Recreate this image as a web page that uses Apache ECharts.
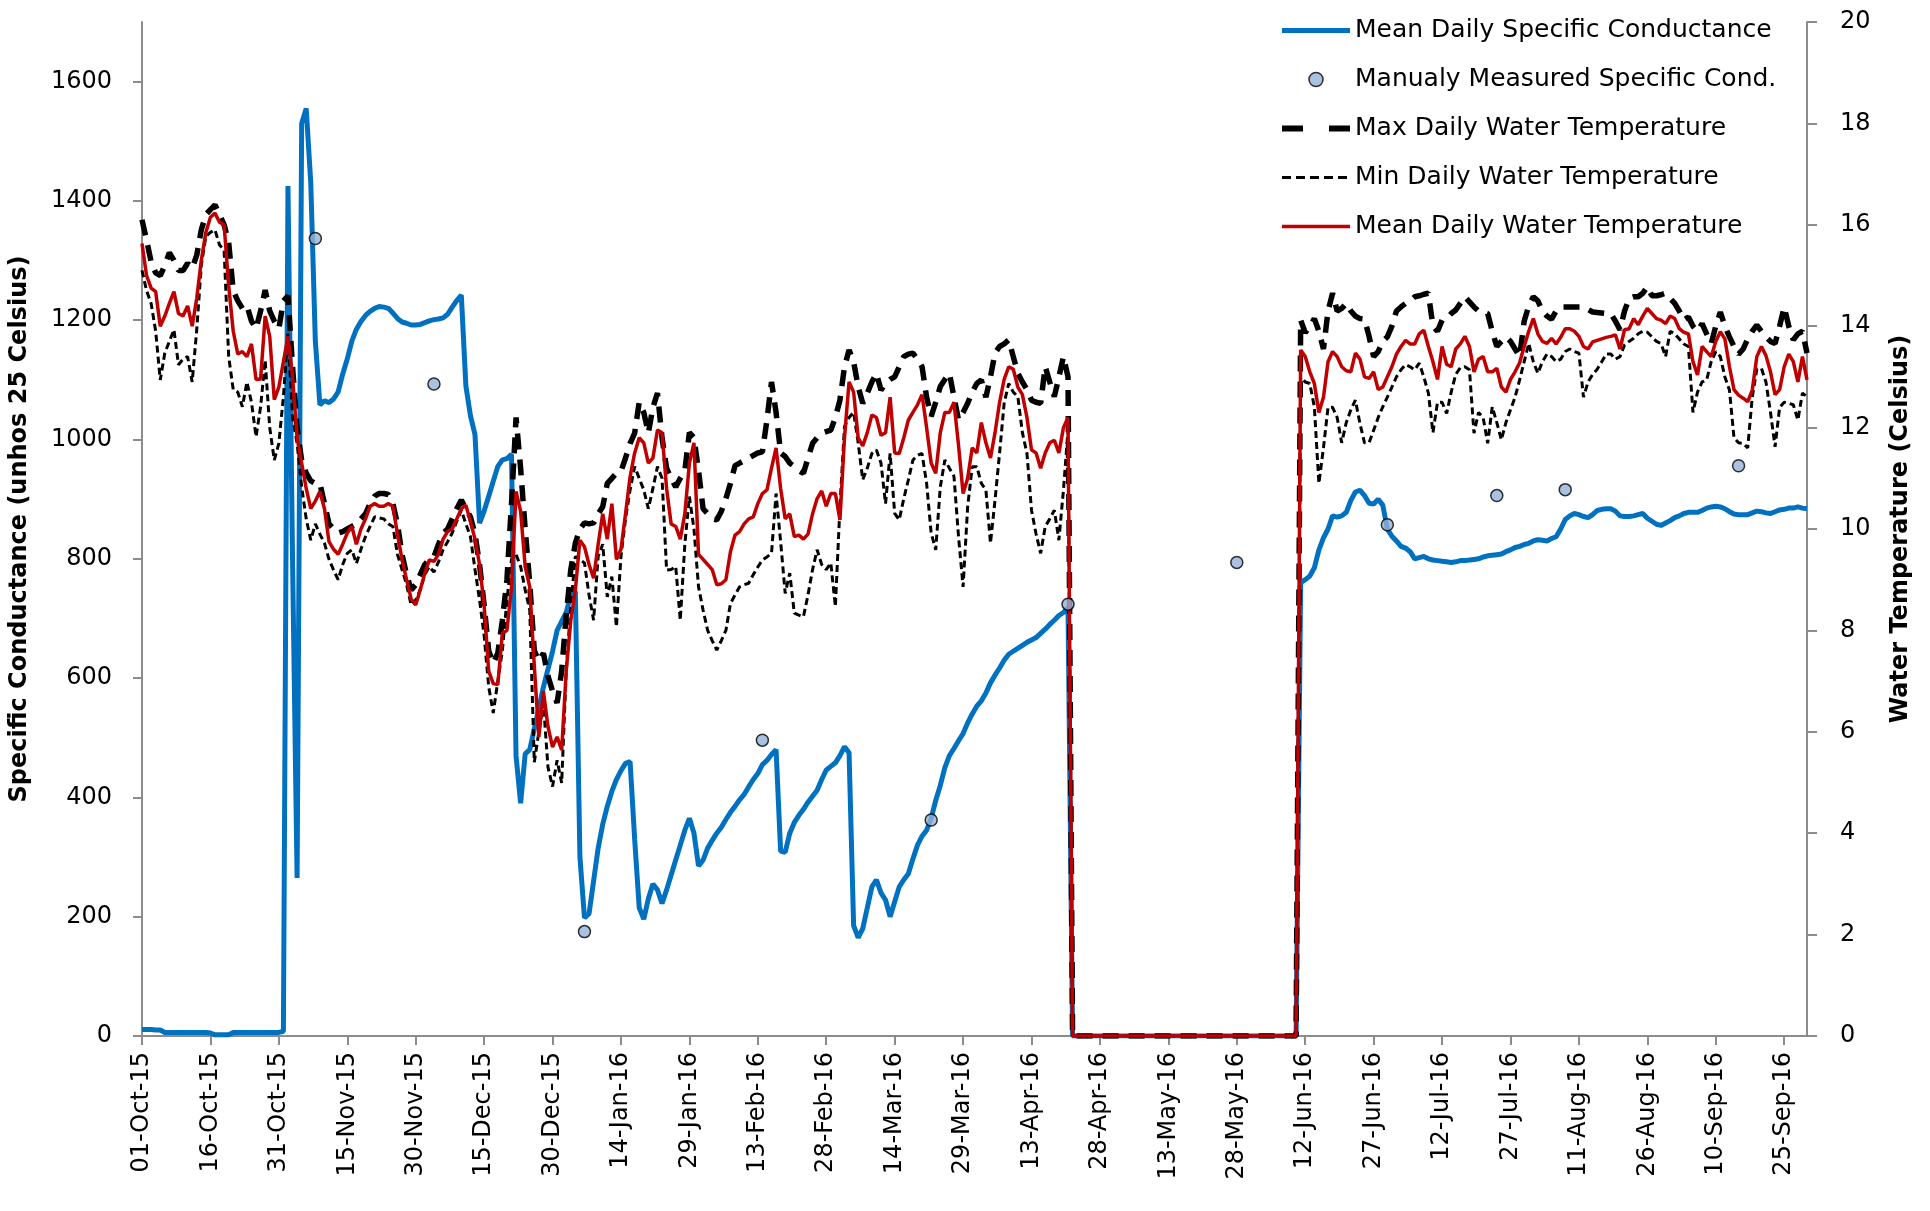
<!DOCTYPE html>
<html>
<head>
<meta charset="utf-8">
<script src="https://cdn.jsdelivr.net/npm/echarts@6/dist/echarts.min.js"></script>
<style>
html,body{margin:0;padding:0;background:#fff;}
#chart{width:1930px;height:1211px;}
</style>
</head>
<body>
<div id="chart"></div>
<script>
// Daily categories 01-Oct-15 .. 30-Sep-16
const startDate = [2015, 9, 1];
const dayCount = 366;
const monthNames = ['Jan','Feb','Mar','Apr','May','Jun','Jul','Aug','Sep','Oct','Nov','Dec'];
const categories = [];
for (let i = 0; i < dayCount; i++) {
  const d = new Date(Date.UTC(startDate[0], startDate[1], startDate[2] + i));
  const dd = String(d.getUTCDate()).padStart(2, '0');
  const yy = String(d.getUTCFullYear()).slice(2);
  categories.push(dd + '-' + monthNames[d.getUTCMonth()] + '-' + yy);
}

const leftTicks = [0, 200, 400, 600, 800, 1000, 1200, 1400, 1600];
const rightTicks = [0, 2, 4, 6, 8, 10, 12, 14, 16, 18, 20];

// Mean daily specific conductance
const condMean = [
11,11,11,10,10,6,6,6,6,6,6,6,6,6,6,
5,2,2,2,2,6,6,6,6,6,6,6,6,6,6,
6,8,1425,800,265,1530,1555,1430,1165,1058,1065,1062,1068,1080,1110,
1135,1165,1185,1198,1208,1215,1220,1223,1222,1220,1212,1203,1197,1195,1192,
1192,1193,1196,1199,1201,1202,1204,1210,1222,1233,1242,1090,1040,1008,860,
880,905,930,955,966,968,975,470,390,473,480,515,550,585,615,
645,680,695,710,740,745,300,198,205,260,315,355,385,410,430,
445,457,460,330,215,196,230,255,245,222,245,270,295,320,345,
365,340,285,295,315,328,340,350,363,375,385,396,405,418,430,
440,455,462,472,480,310,308,340,358,370,380,392,402,412,430,
446,452,458,470,485,475,185,165,180,215,250,262,240,228,200,
225,250,262,272,297,320,335,345,365,395,420,450,470,482,495,
507,525,540,553,562,575,592,605,617,630,640,645,650,655,660,
664,668,675,682,690,697,705,710,718,
0,0,0,0,0,0,0,0,0,0,
0,0,0,0,0,0,0,0,0,0,
0,0,0,0,0,0,0,0,0,0,
0,0,0,0,0,0,0,0,0,0,
0,0,0,0,0,0,0,0,0,0,
760,765,771,785,815,835,850,872,870,872,878,898,912,915,906,
893,892,900,890,850,838,830,821,818,812,800,802,804,800,798,
797,796,795,794,795,797,797,798,799,800,803,805,806,807,808,
812,815,819,821,824,826,830,832,831,830,834,837,850,866,872,
876,874,871,869,874,881,883,884,884,880,872,871,871,872,874,
876,868,863,858,856,860,864,869,872,876,878,878,878,881,885,
887,888,887,884,879,875,874,874,874,877,880,879,877,876,879,
882,883,885,885,887,885,884
];

// Manually measured specific conductance
const manualDates = ['08-Nov-15','04-Dec-15','06-Jan-16','14-Feb-16','22-Mar-16','21-Apr-16','28-May-16','30-Jun-16','24-Jul-16','08-Aug-16','15-Sep-16'];
const manualValues = [1337, 1093, 175, 496, 362, 724, 794, 857, 906, 916, 956];

// Max daily water temperature
const tempMax = [
16.1,15.7,15.27,15.05,15.0,15.2,15.45,15.3,15.1,15.1,15.24,15.14,15.4,15.9,16.2,
16.3,16.39,16.2,16.0,15.65,14.7,14.5,14.35,14.41,14.1,13.95,14.3,14.71,14.3,14.1,
13.95,14.5,14.6,13.2,12.0,11.35,11.1,10.95,10.9,10.9,10.5,10.1,10.0,9.92,9.95,
10.0,10.05,10.1,10.2,10.3,10.5,10.65,10.7,10.7,10.68,10.5,10.1,9.5,9.1,8.8,
8.9,9.1,9.3,9.4,9.45,9.7,9.92,10.0,10.2,10.4,10.57,10.4,10.24,9.9,9.3,
8.5,7.6,7.35,7.55,8.2,9.0,10.5,12.2,11.2,10.0,8.93,7.6,7.4,7.55,7.1,
6.8,6.57,7.2,8.3,9.2,9.72,10.0,10.12,10.1,10.12,10.3,10.44,10.9,11.0,11.1,
11.14,11.4,11.69,11.89,12.5,12.3,11.89,12.4,12.68,11.8,11.2,11.0,10.83,11.0,11.15,
11.9,11.8,11.15,10.4,10.3,10.2,10.18,10.35,10.6,10.9,11.25,11.3,11.35,11.4,11.45,
11.5,11.52,12.15,12.9,12.3,11.5,11.43,11.3,11.23,11.15,11.1,11.4,11.69,11.8,11.89,
11.92,11.95,12.2,12.54,13.2,13.53,13.3,12.8,12.48,12.68,12.9,13.07,12.74,12.87,12.95,
13.0,13.2,13.4,13.45,13.47,13.35,13.2,12.6,12.22,12.5,12.81,12.95,13.07,12.6,12.15,
12.3,12.48,12.7,12.87,12.94,12.6,13.0,13.47,13.6,13.65,13.73,13.4,13.07,12.9,12.75,
12.54,12.5,12.48,13.2,12.9,12.61,13.0,13.4,13.0,
0,0,0,0,0,0,0,0,0,0,
0,0,0,0,0,0,0,0,0,0,
0,0,0,0,0,0,0,0,0,0,
0,0,0,0,0,0,0,0,0,0,
0,0,0,0,0,0,0,0,0,0,
14.12,13.87,14.0,14.15,13.9,13.55,14.3,14.65,14.3,14.35,14.45,14.3,14.2,14.15,14.14,
13.8,13.4,13.5,13.7,13.79,14.0,14.3,14.38,14.45,14.5,14.58,14.6,14.63,14.65,14.0,
13.9,14.12,14.15,14.25,14.32,14.45,14.58,14.48,14.38,14.3,14.28,14.25,13.9,13.6,13.7,
13.79,13.7,13.55,13.4,14.1,14.4,14.58,14.5,14.3,14.2,14.14,14.3,14.38,14.38,14.38,
14.38,14.38,14.38,14.33,14.28,14.27,14.26,14.25,14.25,14.1,13.93,14.3,14.55,14.58,14.58,
14.65,14.78,14.6,14.6,14.62,14.65,14.55,14.45,14.3,14.12,14.18,14.0,13.9,14.05,13.85,
13.66,14.0,14.28,14.0,13.79,13.6,13.45,13.55,13.75,13.9,14.02,13.9,13.79,13.7,13.66,
14.0,14.38,14.0,13.73,13.85,13.9,13.47
];

// Min daily water temperature
const tempMin = [
15.1,14.7,14.45,13.9,12.94,13.47,13.7,13.93,13.24,13.35,13.4,12.9,13.93,15.2,15.77,
15.85,15.9,15.6,15.5,13.4,12.75,12.7,12.41,12.9,12.5,11.82,12.41,13.33,12.0,11.36,
11.69,12.61,13.86,12.2,11.69,10.83,10.2,9.78,10.1,9.9,9.72,9.4,9.19,9.0,9.3,
9.52,9.59,9.32,9.6,9.85,10.05,10.24,10.22,10.2,10.1,10.05,9.5,9.2,8.9,8.5,
8.6,8.8,9.1,9.26,9.15,9.35,9.59,9.75,9.92,10.15,10.37,10.1,9.85,9.2,8.6,
7.9,6.89,6.37,7.0,7.6,8.6,9.4,9.5,9.26,8.8,8.4,5.4,6.0,6.56,5.3,
4.92,5.44,4.99,7.2,8.5,9.46,9.4,9.33,8.7,8.2,9.46,9.7,8.66,9.06,8.07,
9.46,10.2,10.77,11.23,11.0,10.77,10.4,10.8,11.23,11.0,9.19,9.2,9.26,8.2,9.7,
10.64,10.0,8.86,8.4,8.0,7.8,7.61,7.8,8.0,8.53,8.7,8.86,8.9,8.93,9.1,
9.25,9.39,9.45,9.52,10.7,9.75,8.73,9.13,8.34,8.3,8.27,8.7,9.2,9.59,9.3,
9.2,9.33,8.47,10.44,12.02,12.2,12.3,11.7,10.97,11.2,11.49,11.56,11.3,10.5,11.49,
10.31,10.18,10.6,10.97,11.36,11.45,11.49,10.9,9.92,9.59,10.83,11.36,11.2,11.04,9.85,
8.86,10.44,11.23,11.23,10.9,10.77,9.72,10.57,11.5,12.48,12.87,12.7,12.61,11.9,11.49,
10.37,9.9,9.52,10.05,10.2,10.37,9.78,10.77,11.95,
0,0,0,0,0,0,0,0,0,0,
0,0,0,0,0,0,0,0,0,0,
0,0,0,0,0,0,0,0,0,0,
0,0,0,0,0,0,0,0,0,0,
0,0,0,0,0,0,0,0,0,0,
13.0,12.9,12.87,12.41,10.9,11.6,12.4,12.4,12.2,11.7,12.1,12.35,12.54,12.08,11.7,
11.7,11.95,12.2,12.41,12.6,12.8,13.0,13.14,13.24,13.2,13.14,13.27,13.0,12.68,11.9,
12.5,12.5,12.28,12.7,13.05,13.18,13.2,13.14,11.89,12.3,12.2,11.69,12.41,12.1,11.76,
12.1,12.35,12.6,12.94,13.3,13.66,13.3,13.07,13.3,13.45,13.4,13.3,13.35,13.5,13.55,
13.5,13.47,12.6,12.9,13.05,13.15,13.3,13.45,13.45,13.35,13.4,13.63,13.7,13.76,13.85,
13.9,13.88,13.79,13.7,13.66,13.4,13.9,13.85,13.75,13.65,13.6,12.3,12.7,12.9,12.94,
13.3,13.5,13.4,13.0,12.74,11.8,11.7,11.69,11.6,12.6,13.15,13.17,12.9,12.3,11.62,
12.4,12.5,12.48,12.45,12.15,12.68,12.61
];

// Mean daily water temperature
const tempMean = [
15.63,15.0,14.75,14.68,14.0,14.2,14.45,14.68,14.25,14.2,14.4,14.0,14.55,15.3,15.85,
16.15,16.23,16.05,16.0,14.8,13.9,13.45,13.5,13.4,13.65,12.95,12.96,14.2,13.8,12.55,
12.8,13.3,13.8,13.0,11.8,11.3,10.8,10.4,10.55,10.74,10.4,9.75,9.6,9.5,9.7,
9.92,10.05,9.7,10.0,10.2,10.45,10.5,10.45,10.45,10.5,10.45,9.9,9.4,9.0,8.62,
8.5,8.8,9.13,9.39,9.36,9.5,9.8,9.95,10.0,10.2,10.4,10.47,10.15,9.8,9.3,
8.5,7.2,6.95,6.93,7.95,8.0,8.85,10.74,10.35,9.26,8.86,7.3,5.9,6.8,6.1,
5.7,5.9,5.64,7.2,8.2,8.8,9.78,9.65,9.3,9.03,9.7,10.3,9.8,10.5,9.4,
9.6,10.3,11.03,11.5,11.8,11.7,11.3,11.4,11.95,11.9,10.8,10.1,10.05,9.8,10.3,
11.3,11.7,9.5,9.4,9.3,9.2,8.9,8.92,9.0,9.55,9.88,9.95,10.1,10.2,10.24,
10.5,10.7,10.77,11.2,11.6,10.8,10.2,10.3,9.85,9.88,9.8,9.9,10.3,10.6,10.75,
10.45,10.7,10.7,10.18,11.8,12.9,12.7,11.8,11.64,11.9,12.25,12.2,11.85,11.9,12.6,
11.5,11.49,11.8,12.15,12.3,12.45,12.65,12.0,11.3,11.1,11.9,12.3,12.3,12.5,11.65,
10.7,11.0,11.6,11.5,12.1,11.7,11.4,11.9,12.5,12.95,13.2,13.15,12.8,12.65,12.2,
11.56,11.5,11.2,11.5,11.7,11.75,11.5,12.0,12.2,
0,0,0,0,0,0,0,0,0,0,
0,0,0,0,0,0,0,0,0,0,
0,0,0,0,0,0,0,0,0,0,
0,0,0,0,0,0,0,0,0,0,
0,0,0,0,0,0,0,0,0,0,
13.53,13.4,13.1,12.87,12.3,12.6,13.3,13.5,13.4,13.2,13.12,13.1,13.47,13.35,13.0,
12.97,13.1,12.75,12.8,13.0,13.2,13.45,13.6,13.72,13.65,13.65,13.85,13.92,13.6,13.3,
12.95,13.6,13.25,13.2,13.55,13.65,13.8,13.6,13.1,13.35,13.4,13.1,13.1,13.17,12.8,
12.7,12.95,13.1,13.28,13.6,13.9,14.15,13.85,13.7,13.66,13.76,13.65,13.78,13.95,13.95,
13.9,13.8,13.6,13.55,13.69,13.72,13.75,13.78,13.8,13.83,13.55,13.93,13.95,14.15,14.03,
14.2,14.35,14.25,14.15,14.12,14.05,14.2,14.15,13.95,13.88,13.85,13.3,13.04,13.6,13.5,
13.4,13.7,13.89,13.75,13.2,12.75,12.64,12.58,12.51,12.74,13.4,13.6,13.42,13.1,12.65,
12.75,13.2,13.45,13.3,12.9,13.4,12.94
];

const FONT = 'DejaVu Sans';
const manualData = manualDates.map((d, i) => [d, manualValues[i]]);
const plainNumber = v => (leftTicks.indexOf(v) >= 0 || rightTicks.indexOf(v) >= 0) ? String(v) : '';

const chart = echarts.init(document.getElementById('chart'), null, {renderer: 'canvas'});
chart.setOption({
  animation: false,
  backgroundColor: '#ffffff',
  textStyle: {fontFamily: FONT, color: '#000'},
  grid: {left: 141, right: 123, top: 22, bottom: 175, containLabel: false},
  legend: {
    orient: 'vertical',
    left: 1274,
    top: 13,
    itemWidth: 68,
    itemHeight: 14,
    itemGap: 24,
    itemStyle: {color: 'rgba(0,0,0,0)', borderColor: 'rgba(0,0,0,0)', borderWidth: 0},
    textStyle: {fontFamily: FONT, fontSize: 25, color: '#000'},
    data: [
      {name: 'Mean Daily Specific Conductance', lineStyle: {width: 5, color: '#0070C0'}},
      {name: 'Manualy Measured Specific Cond.', icon: 'circle',
       itemStyle: {color: '#95B3D7', borderColor: '#000', borderWidth: 1.5}},
      {name: 'Max Daily Water Temperature', lineStyle: {width: 6, color: '#000', type: [21, 26]}},
      {name: 'Min Daily Water Temperature', lineStyle: {width: 3, color: '#000', type: [9, 5]}},
      {name: 'Mean Daily Water Temperature', lineStyle: {width: 3.5, color: '#C00000'}}
    ]
  },
  xAxis: {
    type: 'category',
    data: categories,
    boundaryGap: false,
    axisLine: {lineStyle: {color: '#8c8c8c', width: 2}},
    axisTick: {interval: 14, length: 9, lineStyle: {color: '#8c8c8c', width: 2}},
    axisLabel: {interval: 14, rotate: 90, margin: 16, fontFamily: FONT, fontSize: 24, color: '#000'},
    splitLine: {show: false}
  },
  yAxis: [
    {
      type: 'value',
      min: 0, max: 1700, interval: 200,
      position: 'left',
      name: 'Specific Conductance (unhos 25 Celsius)',
      nameLocation: 'middle',
      nameRotate: 90,
      nameGap: 110,
      nameTextStyle: {fontFamily: FONT, fontSize: 24, fontWeight: 'bold', color: '#000'},
      axisLine: {show: true, lineStyle: {color: '#8c8c8c', width: 2}},
      axisTick: {show: true, length: 9, customValues: leftTicks, lineStyle: {color: '#8c8c8c', width: 2}},
      axisLabel: {margin: 30, fontFamily: FONT, fontSize: 24, color: '#000', customValues: leftTicks, formatter: plainNumber},
      splitLine: {show: false}
    },
    {
      type: 'value',
      min: 0, max: 20, interval: 2,
      position: 'right',
      name: 'Water Temperature (Celsius)',
      nameLocation: 'middle',
      nameRotate: 90,
      nameGap: 82,
      nameTextStyle: {fontFamily: FONT, fontSize: 24, fontWeight: 'bold', color: '#000'},
      axisLine: {show: true, lineStyle: {color: '#8c8c8c', width: 2}},
      axisTick: {show: true, length: 10, customValues: rightTicks, lineStyle: {color: '#8c8c8c', width: 2}},
      axisLabel: {margin: 33, fontFamily: FONT, fontSize: 24, color: '#000', customValues: rightTicks, formatter: plainNumber},
      splitLine: {show: false}
    }
  ],
  series: [
    {
      name: 'Mean Daily Specific Conductance',
      type: 'line',
      yAxisIndex: 0,
      data: condMean,
      symbol: 'none',
      lineStyle: {color: '#0070C0', width: 5},
      itemStyle: {color: '#0070C0'},
      z: 2
    },
    {
      name: 'Max Daily Water Temperature',
      type: 'line',
      yAxisIndex: 1,
      data: tempMax,
      symbol: 'none',
      lineStyle: {color: '#000', width: 5.5, type: [16, 10]},
      itemStyle: {color: '#000'},
      z: 3
    },
    {
      name: 'Min Daily Water Temperature',
      type: 'line',
      yAxisIndex: 1,
      data: tempMin,
      symbol: 'none',
      lineStyle: {color: '#000', width: 3, type: [7, 4]},
      itemStyle: {color: '#000'},
      z: 4
    },
    {
      name: 'Mean Daily Water Temperature',
      type: 'line',
      yAxisIndex: 1,
      data: tempMean,
      symbol: 'none',
      lineStyle: {color: '#C00000', width: 3.5},
      itemStyle: {color: '#C00000'},
      z: 5
    },
    {
      name: 'Manualy Measured Specific Cond.',
      type: 'scatter',
      yAxisIndex: 0,
      data: manualData,
      symbol: 'circle',
      symbolSize: 12,
      itemStyle: {color: '#95B3D7', borderColor: '#000', borderWidth: 1.5},
      z: 6
    }
  ]
});
</script>
</body>
</html>
